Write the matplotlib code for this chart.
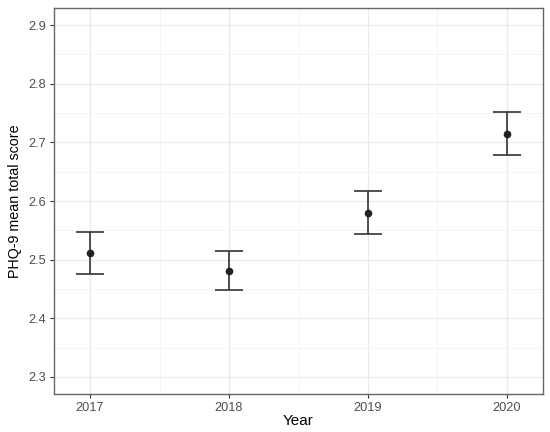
import matplotlib
matplotlib.use("Agg")
import matplotlib.pyplot as plt
import numpy as np

years = [2017, 2018, 2019, 2020]
means = [2.512, 2.481, 2.580, 2.715]
lower = [2.476, 2.448, 2.544, 2.679]
upper = [2.548, 2.515, 2.617, 2.751]
yticks = [2.3, 2.4, 2.5, 2.6, 2.7, 2.8, 2.9]

plt.rcParams['font.family'] = ['Liberation Sans', 'DejaVu Sans']

fig = plt.figure(figsize=(5.5, 4.32), dpi=100)
ax = fig.add_axes([54/550, 38/432, 489/550, 386/432])

y = np.array(means)
yerr = np.vstack([y - np.array(lower), np.array(upper) - y])
ax.errorbar(years, means, yerr=yerr, fmt='o', color='#222222', ecolor='#333333',
            markersize=4.5, elinewidth=1.2, capsize=10, capthick=1.2, zorder=3)

ax.set_xlim(2016.74, 2020.26)
ax.set_ylim(2.271, 2.929)
ax.set_xticks(years)
ax.set_xticklabels([str(v) for v in years])
ax.set_yticks(yticks)
ax.set_yticklabels([f"{v:.1f}" for v in yticks])
ax.set_xticks([2017.5, 2018.5, 2019.5], minor=True)
ax.set_yticks([2.35, 2.45, 2.55, 2.65, 2.75, 2.85], minor=True)

ax.grid(True, which='major', color='#ebebeb', linewidth=1.0, zorder=0)
ax.grid(True, which='minor', color='#f2f2f2', linewidth=0.6, zorder=0)
ax.set_axisbelow(True)

for s in ax.spines.values():
    s.set_color('#666666')
    s.set_linewidth(1.0)

ax.tick_params(which='major', length=3, width=0.8, color='#333333',
               labelsize=9.2, labelcolor='#4d4d4d', pad=3)
ax.tick_params(which='minor', length=0)

ax.set_xlabel('Year', fontsize=11, color='black', labelpad=0)
ax.set_ylabel('PHQ-9 mean total score', fontsize=10.3, color='black', labelpad=4)

fig.savefig('out.png', dpi=100)
